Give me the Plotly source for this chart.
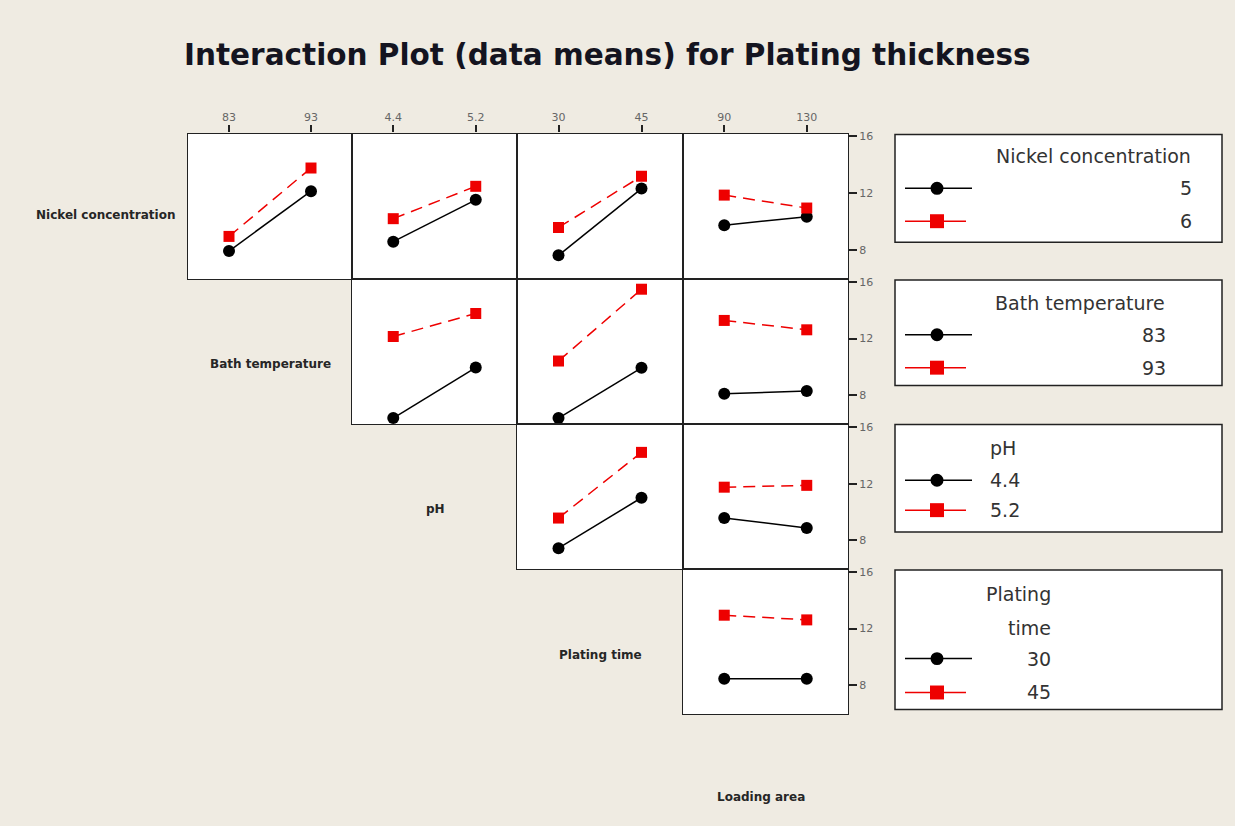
import plotly.graph_objects as go

# ---------------- data ----------------
factor_names = ["Nickel concentration", "Bath temperature", "pH", "Plating time", "Loading area"]
factor_levels = [["5", "6"], ["83", "93"], ["4.4", "5.2"], ["30", "45"], ["90", "130"]]

# means of Plating thickness: [low level of row factor], [high level of row factor]
nickel_by_bath = [[7.92, 12.14], [8.95, 13.77]]
nickel_by_ph = [[8.58, 11.53], [10.20, 12.48]]
nickel_by_time = [[7.62, 12.32], [9.58, 13.19]]
nickel_by_area = [[9.74, 10.34], [11.86, 10.95]]
bath_by_ph = [[6.40, 9.96], [12.15, 13.77]]
bath_by_time = [[6.40, 9.94], [10.42, 15.48]]
bath_by_area = [[8.11, 8.30], [13.28, 12.62]]
ph_by_time = [[7.42, 11.00], [9.56, 14.22]]
ph_by_area = [[9.56, 8.86], [11.75, 11.88]]
time_by_area = [[8.46, 8.46], [12.94, 12.61]]

y_ticks = [8, 12, 16]

panels = [
    (0, 1, nickel_by_bath), (0, 2, nickel_by_ph), (0, 3, nickel_by_time), (0, 4, nickel_by_area),
    (1, 2, bath_by_ph), (1, 3, bath_by_time), (1, 4, bath_by_area),
    (2, 3, ph_by_time), (2, 4, ph_by_area),
    (3, 4, time_by_area),
]

# ---------------- layout helpers ----------------
W, H = 1235, 826


def fx(px):
    return px / W


def fy(py):
    return 1 - py / H


col_px = [(188, 352), (352, 517), (517, 683), (683, 848)]
row_px = [(131, 277), (277, 423), (423, 568), (568, 714)]

BG = "#EFEBE2"
AX = "#222222"
RED = "#EE0000"
TICKFONT = dict(family="DejaVu Sans", size=11, color="#666666")

fig = go.Figure()
layout = {}

for k, (r, j, vals) in enumerate(panels, start=1):
    c = j - 1
    xs = list(range(len(factor_levels[j])))
    xname = "x" if k == 1 else f"x{k}"
    yname = "y" if k == 1 else f"y{k}"
    layout["xaxis" if k == 1 else f"xaxis{k}"] = dict(
        domain=[fx(col_px[c][0]), fx(col_px[c][1])], anchor=yname,
        range=[-0.5, 1.5], tickvals=xs, ticktext=factor_levels[j],
        side="top", showticklabels=(r == 0), ticks="outside" if r == 0 else "",
        ticklen=7, tickwidth=1.5, tickcolor=AX, tickfont=TICKFONT,
        showline=True, linecolor=AX, linewidth=1.2, mirror=True,
        showgrid=False, zeroline=False, fixedrange=True,
    )
    layout["yaxis" if k == 1 else f"yaxis{k}"] = dict(
        domain=[fy(row_px[r][1]), fy(row_px[r][0])], anchor=xname,
        range=[5.95, 16.2], tickvals=y_ticks,
        side="right", showticklabels=(c == 3), ticks="outside" if c == 3 else "",
        ticklen=8, tickwidth=1.5, tickcolor=AX, tickfont=TICKFONT,
        showline=True, linecolor=AX, linewidth=1.2, mirror=True,
        showgrid=False, zeroline=False, fixedrange=True,
    )
    fig.add_trace(go.Scatter(
        x=xs, y=vals[0], xaxis=xname, yaxis=yname, mode="lines+markers",
        line=dict(color="black", width=1.5),
        marker=dict(symbol="circle", size=12, color="black"),
        showlegend=False, cliponaxis=False, hoverinfo="skip",
    ))
    fig.add_trace(go.Scatter(
        x=xs, y=vals[1], xaxis=xname, yaxis=yname, mode="lines+markers",
        line=dict(color=RED, width=1.5, dash="12px,7px"),
        marker=dict(symbol="square", size=11, color=RED),
        showlegend=False, cliponaxis=False, hoverinfo="skip",
    ))

shapes = []
annotations = []

# Title
annotations.append(dict(
    text="<b>Interaction Plot (data means) for Plating thickness</b>",
    x=fx(607), y=fy(52), xref="paper", yref="paper", xanchor="center", yanchor="middle",
    showarrow=False, font=dict(family="DejaVu Sans", size=29.5, color="#141420"),
))

# Factor labels on the diagonal
diag_pos = [(105, 213), (270, 362), (435, 508), (600, 654), (761, 797)]
for name, (px, py) in zip(factor_names, diag_pos):
    annotations.append(dict(
        text=f"<b>{name}</b>", x=fx(px), y=fy(py), xref="paper", yref="paper",
        xanchor="center", yanchor="middle", showarrow=False,
        font=dict(family="DejaVu Sans", size=12, color="#262626"),
    ))

# Legend boxes (drawn)
LEGFONT = dict(family="DejaVu Sans", size=19, color="#333333")
legend_specs = [
    dict(top=132, bottom=240, titles=[("Nickel concentration", 1193, 154, "right")],
         ys=(186, 219), label_x=1194, anchor="right", levels=factor_levels[0]),
    dict(top=278, bottom=384, titles=[("Bath temperature", 1167, 301, "right")],
         ys=(333, 366), label_x=1168, anchor="right", levels=factor_levels[1]),
    dict(top=423, bottom=531, titles=[("pH", 988, 447, "left")],
         ys=(479, 509), label_x=988, anchor="left", levels=factor_levels[2]),
    dict(top=569, bottom=709, titles=[("Plating", 1053, 593, "right"), ("time", 1053, 627, "right")],
         ys=(658, 692), label_x=1053, anchor="right", levels=factor_levels[3]),
]
for spec in legend_specs:
    shapes.append(dict(type="rect", xref="paper", yref="paper",
                       x0=fx(895), x1=fx(1222), y0=fy(spec["bottom"]), y1=fy(spec["top"]),
                       fillcolor="white", line=dict(color=AX, width=1.5), layer="below"))
    for text, tx, ty, anc in spec["titles"]:
        annotations.append(dict(text=text, x=fx(tx), y=fy(ty), xref="paper", yref="paper",
                                xanchor=anc, yanchor="middle", showarrow=False, font=LEGFONT))
    yb, yr = spec["ys"]
    shapes.append(dict(type="line", xref="paper", yref="paper",
                       x0=fx(905), x1=fx(972), y0=fy(yb), y1=fy(yb),
                       line=dict(color="black", width=1.5)))
    shapes.append(dict(type="circle", xref="paper", yref="paper",
                       x0=fx(937 - 6.5), x1=fx(937 + 6.5), y0=fy(yb + 6.5), y1=fy(yb - 6.5),
                       fillcolor="black", line=dict(width=0)))
    shapes.append(dict(type="line", xref="paper", yref="paper",
                       x0=fx(905), x1=fx(966), y0=fy(yr), y1=fy(yr),
                       line=dict(color=RED, width=1.5)))
    shapes.append(dict(type="rect", xref="paper", yref="paper",
                       x0=fx(937 - 7), x1=fx(937 + 7), y0=fy(yr + 7), y1=fy(yr - 7),
                       fillcolor=RED, line=dict(width=0)))
    for lvl, ly in zip(spec["levels"], (yb, yr)):
        annotations.append(dict(text=lvl, x=fx(spec["label_x"]), y=fy(ly), xref="paper", yref="paper",
                                xanchor=spec["anchor"], yanchor="middle", showarrow=False, font=LEGFONT))

fig.update_layout(
    width=W, height=H, autosize=False,
    margin=dict(l=0, r=0, t=0, b=0),
    paper_bgcolor=BG, plot_bgcolor="white",
    showlegend=False,
    shapes=shapes, annotations=annotations,
    **layout,
)

fig.write_html("out.html", config={"displayModeBar": False},
               post_script="document.body.style.margin='0';document.body.style.overflow='hidden';")
